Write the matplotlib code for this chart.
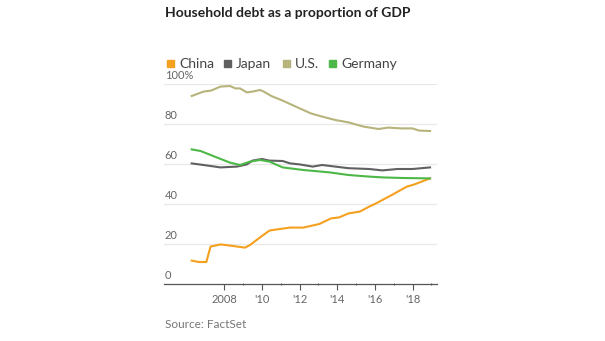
import matplotlib.pyplot as plt
from matplotlib.patches import Rectangle

plt.rcParams['font.family'] = ['Lato', 'DejaVu Sans']

# values (year, % of GDP)
china_x = [2006.27, 2006.65, 2007.05, 2007.27, 2007.8, 2008.3, 2009.1, 2009.37, 2009.9,
           2010.4, 2010.8, 2011.5, 2012.2, 2013.05, 2013.67, 2014.1, 2014.6, 2015.2,
           2015.7, 2016.0, 2016.9, 2017.7, 2018.1, 2018.93]
china_y = [11.7, 11.0, 11.0, 18.7, 19.8, 19.2, 18.2, 19.5, 23.3,
           26.7, 27.3, 28.2, 28.2, 30.0, 32.8, 33.3, 35.3, 36.2,
           38.7, 40.0, 44.5, 48.7, 49.8, 52.8]

japan_x = [2006.27, 2006.9, 2007.8, 2008.67, 2009.2, 2009.5, 2010.0, 2010.4, 2011.1,
           2011.5, 2012.0, 2012.7, 2013.2, 2013.9, 2014.6, 2015.7, 2016.4, 2017.2,
           2018.0, 2018.93]
japan_y = [60.3, 59.5, 58.3, 58.7, 59.8, 61.7, 62.5, 61.7, 61.5,
           60.3, 59.8, 58.7, 59.5, 58.7, 57.9, 57.5, 56.8, 57.5,
           57.5, 58.3]

us_x = [2006.27, 2006.9, 2007.3, 2007.8, 2008.3, 2008.6, 2008.84, 2009.2, 2009.5,
        2009.9, 2010.1, 2010.5, 2011.1, 2011.8, 2012.6, 2013.2, 2013.9, 2014.6,
        2015.4, 2016.2, 2016.7, 2017.4, 2018.0, 2018.35, 2018.93]
us_y = [94.0, 96.2, 96.7, 98.7, 99.0, 97.8, 97.8, 95.8, 96.2,
        97.0, 96.2, 94.0, 91.7, 88.7, 85.3, 83.7, 82.0, 80.8,
        78.7, 77.5, 78.2, 77.8, 77.8, 76.7, 76.5]

germany_x = [2006.27, 2006.74, 2007.6, 2008.3, 2008.84, 2009.37, 2009.9, 2010.4, 2011.1,
             2012.2, 2013.6, 2014.6, 2015.7, 2016.4, 2017.5, 2018.93]
germany_y = [67.3, 66.5, 63.3, 60.7, 59.5, 61.2, 62.0, 61.2, 58.3,
             57.0, 55.8, 54.5, 53.7, 53.3, 53.0, 52.8]

series = [
    ('China', china_x, china_y, '#F5A01E'),
    ('Japan', japan_x, japan_y, '#606060'),
    ('U.S.', us_x, us_y, '#B6B47B'),
    ('Germany', germany_x, germany_y, '#4DB847'),
]

y_ticks = [0, 20, 40, 60, 80, 100]
y_labels = ['0', '20', '40', '60', '80', '100%']
x_major = [2008, 2010, 2012, 2014, 2016, 2018]
x_labels = ['2008', "'10", "'12", "'14", "'16", "'18"]
x_minor = [2009, 2011, 2013, 2015, 2017, 2019]

W, H = 605, 341
fig = plt.figure(figsize=(W / 100, H / 100), dpi=100)
ax = fig.add_axes([164 / W, 1 - 284 / H, (437 - 164) / W, (284 - 84) / H])

ax.set_xlim(2004.8, 2019.3)
ax.set_ylim(0, 100)

for y in y_ticks[1:]:
    ax.axhline(y, color='#e8e8e8', lw=0.9, zorder=0)
for y, lab in zip(y_ticks, y_labels):
    ax.text(2004.83, y + 1.5, lab, fontsize=8, color='#666666', ha='left', va='bottom')

for name, xs, ys, col in series:
    ax.plot(xs, ys, color=col, lw=1.5, clip_on=False, zorder=3)

for s in ['top', 'right', 'left']:
    ax.spines[s].set_visible(False)
ax.spines['bottom'].set_color('#555555')
ax.spines['bottom'].set_linewidth(0.9)
ax.set_yticks([])
ax.set_xticks(x_major)
ax.set_xticklabels(x_labels)
ax.set_xticks(x_minor, minor=True)
ax.tick_params(axis='x', which='major', length=4, width=0.8, color='#555555',
               labelsize=8, labelcolor='#666666', pad=3)
ax.tick_params(axis='x', which='minor', length=2, width=0.8, color='#555555',
               direction='inout')

fig.text(165 / W, 1 - 13 / H, 'Household debt as a proportion of GDP', fontsize=10,
         fontweight='bold', color='#222222', ha='left', va='center')

# legend row
lx = [167, 224, 283, 329]
for (name, xs, ys, col), x0 in zip(series, lx):
    fig.patches.append(Rectangle((x0 / W, 1 - 67 / H), 7 / W, 7 / H, color=col,
                                 transform=fig.transFigure, figure=fig))
    fig.text((x0 + 12) / W, 1 - 63.5 / H, name, fontsize=10, color='#444444',
             ha='left', va='center')

fig.text(165 / W, 1 - 325 / H, 'Source: FactSet', fontsize=8.5, color='#777777',
         ha='left', va='center')

fig.savefig('out.png', dpi=100)
